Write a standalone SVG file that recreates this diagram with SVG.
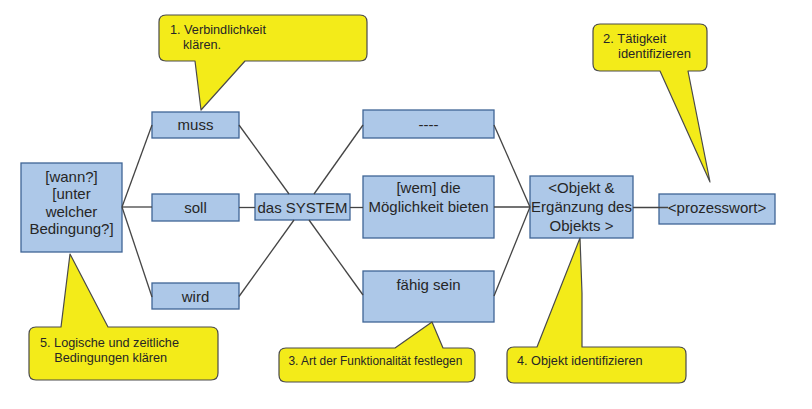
<svg xmlns="http://www.w3.org/2000/svg" width="812" height="409" viewBox="0 0 812 409">
<style>
.box{fill:#adc8e8;stroke:#3f6596;stroke-width:1.3}
.t{font-family:"Liberation Sans",Arial,sans-serif;font-size:15px;fill:#262626;text-anchor:middle}
.call{fill:#f3eb19;stroke:#4a4a4a;stroke-width:1.2;stroke-linejoin:round}
.ct{font-family:"Liberation Sans",Arial,sans-serif;font-size:12.7px;fill:#262626}
.con line{stroke:#444;stroke-width:1.3}
</style>
<rect width="812" height="409" fill="#fff"/>
<g id="wann"><rect class="box" x="21" y="163" width="101" height="89"/>
<text class="t" x="71.5" y="181.5">[wann?]</text><text class="t" x="71.5" y="199">[unter</text><text class="t" x="71.5" y="216.5">welcher</text><text class="t" x="71.5" y="234">Bedingung?]</text></g>
<g id="muss"><rect class="box" x="152" y="112" width="87" height="26"/><text class="t" x="195.5" y="130">muss</text></g>
<g id="soll"><rect class="box" x="152" y="194" width="87" height="27"/><text class="t" x="195.5" y="213">soll</text></g>
<g id="wird"><rect class="box" x="152" y="283" width="87" height="26"/><text class="t" x="195.5" y="301.5">wird</text></g>
<g id="system"><rect class="box" x="255" y="194" width="95" height="26"/><text class="t" x="302.5" y="212.7">das SYSTEM</text></g>
<g id="leer"><rect class="box" x="363" y="110" width="131" height="28"/><text class="t" x="428.5" y="129.5">----</text></g>
<g id="wem"><rect class="box" x="363" y="176" width="131" height="62"/><text class="t" x="428.5" y="193.3">[wem] die</text><text class="t" x="428.5" y="212.3">Möglichkeit bieten</text></g>
<g id="faehig"><rect class="box" x="363" y="271" width="131" height="51"/><text class="t" x="428.5" y="290">fähig sein</text></g>
<g id="objekt"><rect class="box" x="530" y="176" width="103" height="62"/><text class="t" x="581.5" y="193.3">&lt;Objekt &amp;</text><text class="t" x="581.5" y="212">Ergänzung des</text><text class="t" x="581.5" y="230.5">Objekts &gt;</text></g>
<g id="prozesswort"><rect class="box" x="659" y="194" width="116" height="30"/><text class="t" x="717" y="212.7">&lt;prozesswort&gt;</text></g>
<g class="con" id="connectors">
<line x1="122" y1="207" x2="152" y2="125"/>
<line x1="122" y1="207" x2="152" y2="207"/>
<line x1="122" y1="207" x2="152" y2="297"/>
<line x1="239" y1="125" x2="289" y2="194"/>
<line x1="239" y1="207.5" x2="255" y2="207.5"/>
<line x1="239" y1="296.5" x2="294" y2="220"/>
<line x1="314" y1="194" x2="363" y2="125"/>
<line x1="350" y1="207.5" x2="363" y2="207.5"/>
<line x1="309" y1="220" x2="363" y2="295"/>
<line x1="494" y1="125" x2="530" y2="207"/>
<line x1="494" y1="207" x2="530" y2="207"/>
<line x1="494" y1="296" x2="530" y2="207"/>
<line x1="633" y1="207.5" x2="668" y2="207.5"/>
</g>
<g id="callout1"><path class="call" d="M166,15 H360 Q367,15 367,22 V54 Q367,61 360,61 H245 L201,110 L195,61 H166 Q159,61 159,54 V22 Q159,15 166,15 Z"/>
<text class="ct" x="170" y="33.5">1. Verbindlichkeit</text><text class="ct" x="183" y="48.5">klären.</text></g>
<g id="callout2"><path class="call" d="M600,24 H700 Q707,24 707,31 V64 Q707,71 700,71 H688 L710,182 L660,71 H600 Q593,71 593,64 V31 Q593,24 600,24 Z"/>
<text class="ct" x="603" y="42.7" style="font-size:13px">2. Tätigkeit</text><text class="ct" x="618" y="58.3" style="font-size:13px">identifizieren</text></g>
<g id="callout3"><path class="call" d="M286,348 H395 L432,322 L443,348 H468 Q475,348 475,355 V375 Q475,382 468,382 H286 Q279,382 279,375 V355 Q279,348 286,348 Z"/>
<text class="ct" x="288.5" y="365" style="font-size:11.9px">3. Art der Funktionalität festlegen</text></g>
<g id="callout4"><path class="call" d="M514,347 H537 L580,238 L582,293 L582,347 H679 Q686,347 686,354 V376 Q686,383 679,383 H514 Q507,383 507,376 V354 Q507,347 514,347 Z"/>
<text class="ct" x="517" y="365">4. Objekt identifizieren</text></g>
<g id="callout5"><path class="call" d="M36,327 H61 L70,254 L108,327 H211 Q218,327 218,334 V373 Q218,380 211,380 H36 Q29,380 29,373 V334 Q29,327 36,327 Z"/>
<text class="ct" x="40" y="346.7">5. Logische und zeitliche</text><text class="ct" x="54.3" y="361.7">Bedingungen klären</text></g>
</svg>
